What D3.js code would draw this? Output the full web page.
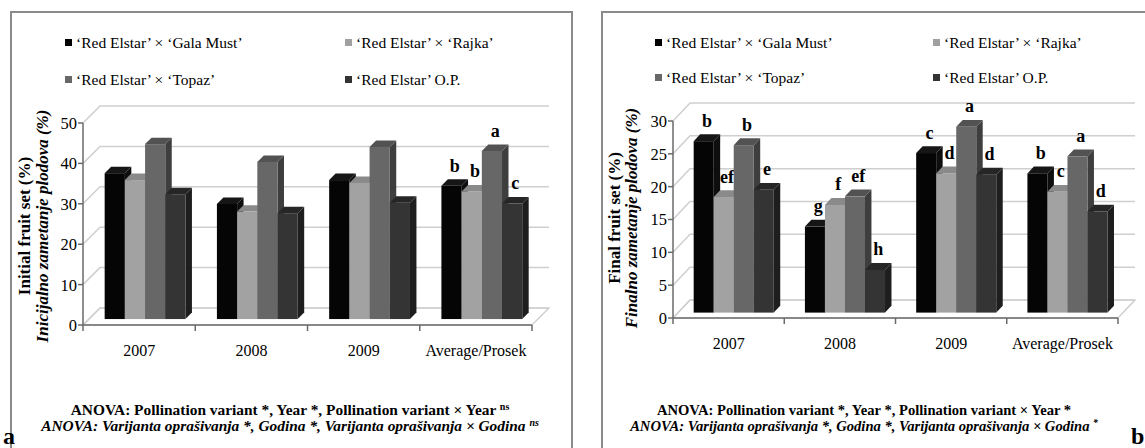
<!DOCTYPE html>
<html>
<head>
<meta charset="utf-8">
<script src="https://cdn.jsdelivr.net/npm/d3@7"></script>
<style>
  html, body { margin: 0; padding: 0; background: #fff; }
  svg { display: block; }
</style>
</head>
<body>
<svg id="chart" width="1145" height="448" font-family="'Liberation Serif', 'DejaVu Serif', serif"></svg>
<script>
// Categories and pollination variants
const categories = ["2007", "2008", "2009", "Average/Prosek"];
const seriesNames = [
  "\u2018Red Elstar\u2019 \u00d7 \u2018Gala Must\u2019",
  "\u2018Red Elstar\u2019 \u00d7 \u2018Rajka\u2019",
  "\u2018Red Elstar\u2019 \u00d7 \u2018Topaz\u2019",
  "\u2018Red Elstar\u2019 O.P."
];

// Initial fruit set (%)
const initialGalaMust = [36.1, 28.5, 34.4, 33.0];
const initialRajka    = [34.4, 26.6, 33.7, 31.6];
const initialTopaz    = [43.3, 38.9, 42.6, 41.6];
const initialOP       = [30.9, 26.2, 28.8, 28.6];
const initialLettersGalaMust = ["", "", "", "b"];
const initialLettersRajka    = ["", "", "", "b"];
const initialLettersTopaz    = ["", "", "", "a"];
const initialLettersOP       = ["", "", "", "c"];
const initialTicks = [0, 10, 20, 30, 40, 50];

// Final fruit set (%)
const finalGalaMust = [26.1, 13.1, 24.3, 21.2];
const finalRajka    = [17.6, 16.4, 21.2, 18.4];
const finalTopaz    = [25.5, 17.7, 28.3, 23.8];
const finalOP       = [18.7, 6.5, 21.0, 15.4];
const finalLettersGalaMust = ["b", "g", "c", "b"];
const finalLettersRajka    = ["ef", "f", "d", "c"];
const finalLettersTopaz    = ["b", "ef", "a", "a"];
const finalLettersOP       = ["e", "h", "d", "d"];
const finalTicks = [0, 5, 10, 15, 20, 25, 30];

// Face shading for each variant: front, top, side
const shades = [
  { front: "#050505", top: "#161616", side: "#0e0e0e", key: "#000000" },
  { front: "#a2a2a2", top: "#8a8a8a", side: "#7c7c7c", key: "#a0a0a0" },
  { front: "#676767", top: "#525252", side: "#3e3e3e", key: "#686868" },
  { front: "#343434", top: "#262626", side: "#1e1e1e", key: "#333333" }
];

const svg = d3.select("#chart");

function drawPanel(cfg) {
  const g = svg.append("g");
  const values = cfg.series;
  const y = d3.scaleLinear().domain([0, cfg.ticks[cfg.ticks.length - 1]]).range([cfg.y0, cfg.yTop]);
  const x = d3.scaleBand().domain(categories).range([cfg.x0, cfg.x1]).padding(0);
  const xs = d3.scaleBand().domain(d3.range(seriesNames.length))
    .range([x.bandwidth() * 0.14, x.bandwidth() * 0.86]).padding(0);
  const DX = cfg.DX, DY = cfg.DY;
  const P = (px, py, z) => [px + z * DX, py - z * DY];

  // frame
  g.append("rect").attr("x", cfg.frame[0]).attr("y", cfg.frame[1])
    .attr("width", cfg.frame[2]).attr("height", cfg.frame[3])
    .attr("fill", "none").attr("stroke", "#8a8a8a").attr("stroke-width", 2);

  // floor
  const fl = [P(cfg.x0, cfg.y0, 0), P(cfg.x1, cfg.y0, 0), P(cfg.x1, cfg.y0, 1), P(cfg.x0, cfg.y0, 1)];
  g.append("polygon").attr("points", fl.map(p => p.join(",")).join(" "))
    .attr("fill", "#fff").attr("stroke", "#c8c8c8").attr("stroke-width", 1.2);

  // side wall diagonals and back wall gridlines
  cfg.ticks.forEach(t => {
    const a = P(cfg.x0, y(t), 0), b = P(cfg.x0, y(t), 1), c = P(cfg.x1, y(t), 1);
    g.append("path").attr("d", `M${a}L${b}L${c}`)
      .attr("fill", "none").attr("stroke", "#cfcfcf").attr("stroke-width", 1.5);
  });

  // axes
  g.append("line").attr("x1", cfg.x0).attr("x2", cfg.x0).attr("y1", cfg.yTop).attr("y2", cfg.y0)
    .attr("stroke", "#6a6a6a").attr("stroke-width", 1.5);
  g.append("line").attr("x1", cfg.x0).attr("x2", cfg.x1).attr("y1", cfg.y0).attr("y2", cfg.y0)
    .attr("stroke", "#6a6a6a").attr("stroke-width", 1.5);
  cfg.ticks.forEach(t => {
    g.append("line").attr("x1", cfg.x0 - 5).attr("x2", cfg.x0).attr("y1", y(t)).attr("y2", y(t))
      .attr("stroke", "#6a6a6a").attr("stroke-width", 1.5);
    g.append("text").attr("x", cfg.x0 - 6).attr("y", y(t)).attr("dy", "0.36em")
      .attr("text-anchor", "end").attr("font-size", 16.5).text(t);
  });
  const bounds = categories.map(c => x(c)).concat([cfg.x1]);
  bounds.forEach(bx => {
    g.append("line").attr("x1", bx).attr("x2", bx).attr("y1", cfg.y0).attr("y2", cfg.y0 + 6)
      .attr("stroke", "#6a6a6a").attr("stroke-width", 1.5);
  });
  categories.forEach(c => {
    g.append("text").attr("x", x(c) + x.bandwidth() / 2).attr("y", cfg.y0 + 31)
      .attr("text-anchor", "middle").attr("font-size", 16).text(c);
  });

  // 3D columns
  categories.forEach((c, ci) => {
    values.forEach((vals, si) => {
      const v = vals[ci];
      const l = x(c) + xs(si), r = l + xs.bandwidth();
      const yt = y(v), yb = y(0);
      const zf = cfg.zf, zb = cfg.zb;
      const sh = shades[si];
      const poly = pts => pts.map(p => p.join(",")).join(" ");
      // side face
      g.append("polygon").attr("points", poly([P(r, yb, zf), P(r, yb, zb), P(r, yt, zb), P(r, yt, zf)]))
        .attr("fill", sh.side);
      // top face
      g.append("polygon").attr("points", poly([P(l, yt, zf), P(r, yt, zf), P(r, yt, zb), P(l, yt, zb)]))
        .attr("fill", sh.top);
      // front face
      const f0 = P(l, yt, zf), f1 = P(r, yb, zf);
      g.append("rect").attr("x", f0[0]).attr("y", f0[1])
        .attr("width", f1[0] - f0[0]).attr("height", f1[1] - f0[1]).attr("fill", sh.front);
      // significance letter
      const lt = cfg.letters[si][ci];
      if (lt) {
        const m = P((l + r) / 2, yt, (zf + zb) / 2);
        g.append("text").attr("x", m[0]).attr("y", m[1] - 11)
          .attr("text-anchor", "middle").attr("font-size", 18).attr("font-weight", "bold").text(lt);
      }
    });
  });

  // legend
  const legendPos = [[0, 0], [1, 0], [0, 1], [1, 1]];
  seriesNames.forEach((name, i) => {
    const [col, row] = legendPos[i];
    const lx = cfg.legendX[col], ly = cfg.legendY[row];
    g.append("rect").attr("x", lx).attr("y", ly - 4).attr("width", 7).attr("height", 7)
      .attr("fill", shades[i].key);
    g.append("text").attr("x", lx + 11).attr("y", ly).attr("dy", "0.35em")
      .attr("font-size", 15.5).text(name);
  });

  // y axis title
  const tg = g.append("g").attr("transform", `translate(${cfg.titleX},${cfg.titleY}) rotate(-90)`);
  tg.append("text").attr("x", 0).attr("y", 0).attr("text-anchor", "middle")
    .attr("font-size", 17).attr("font-weight", "bold").text(cfg.title);
  tg.append("text").attr("x", 0).attr("y", cfg.titleGap).attr("text-anchor", "middle")
    .attr("font-size", 17).attr("font-weight", "bold").attr("font-style", "italic").text(cfg.titleLocal);

  // ANOVA notes
  const n1 = g.append("text").attr("x", cfg.noteX).attr("y", cfg.noteY).attr("text-anchor", "middle")
    .attr("font-size", cfg.noteSize).attr("font-weight", "bold");
  n1.append("tspan").text(cfg.note1);
  n1.append("tspan").attr("dy", -5).attr("font-size", cfg.noteSize * 0.65).text(cfg.noteSup1);
  const n2 = g.append("text").attr("x", cfg.noteX).attr("y", cfg.noteY + 16).attr("text-anchor", "middle")
    .attr("font-size", cfg.noteSize).attr("font-weight", "bold").attr("font-style", "italic");
  n2.append("tspan").text(cfg.note2);
  n2.append("tspan").attr("dy", -5).attr("font-size", cfg.noteSize * 0.65).text(cfg.noteSup2);

  g.append("text").attr("x", cfg.tagX).attr("y", 444).attr("font-size", 24)
    .attr("font-weight", "bold").text(cfg.tag);
}

drawPanel({
  series: [initialGalaMust, initialRajka, initialTopaz, initialOP],
  letters: [initialLettersGalaMust, initialLettersRajka, initialLettersTopaz, initialLettersOP],
  ticks: initialTicks,
  x0: 83, x1: 532, y0: 325, yTop: 123, DX: 17, DY: 17, zf: 0.35, zb: 0.73,
  frame: [11, 12, 561, 460],
  legendX: [65, 345], legendY: [43, 80],
  title: "Initial fruit set  (%)", titleLocal: "Inicijalno zametanje plodova (%)",
  titleX: 30, titleY: 226, titleGap: 18,
  note1: "ANOVA: Pollination variant *, Year *, Pollination variant \u00d7 Year ", noteSup1: "ns",
  note2: "ANOVA: Varijanta opra\u0161ivanja *, Godina *, Varijanta opra\u0161ivanja \u00d7 Godina ", noteSup2: "ns",
  noteX: 290, noteY: 415, noteSize: 15.4, tag: "a", tagX: 3
});

drawPanel({
  series: [finalGalaMust, finalRajka, finalTopaz, finalOP],
  letters: [finalLettersGalaMust, finalLettersRajka, finalLettersTopaz, finalLettersOP],
  ticks: finalTicks,
  x0: 673, x1: 1118, y0: 318, yTop: 121, DX: 17, DY: 18, zf: 0.3, zb: 0.68,
  frame: [602, 12, 561, 460],
  legendX: [655, 933], legendY: [43, 78],
  title: "Final fruit set  (%)", titleLocal: "Finalno zametanje plodova (%)",
  titleX: 620, titleY: 218, titleGap: 17,
  note1: "ANOVA: Pollination variant *, Year *, Pollination variant \u00d7 Year *", noteSup1: "",
  note2: "ANOVA: Varijanta opra\u0161ivanja *, Godina *, Varijanta opra\u0161ivanja \u00d7 Godina ", noteSup2: "*",
  noteX: 864, noteY: 415, noteSize: 14.6, tag: "b", tagX: 1131
});
</script>
</body>
</html>
